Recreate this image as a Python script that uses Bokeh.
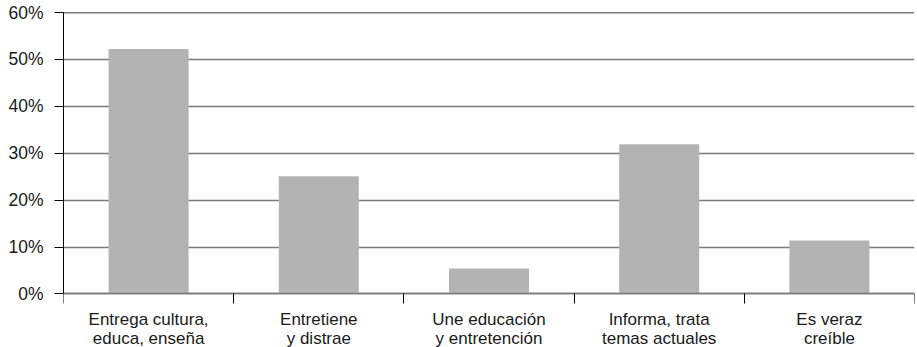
from bokeh.plotting import figure
from bokeh.models import Range1d, FixedTicker, PrintfTickFormatter, Span, ColumnDataSource
from bokeh.embed import file_html
from bokeh.resources import INLINE

# Survey answers (percent of respondents)
categories = [
    "Entrega cultura,\neduca, enseña",
    "Entretiene\ny distrae",
    "Une educación\ny entretención",
    "Informa, trata\ntemas actuales",
    "Es veraz\ncreíble",
]
percentages = [52.2, 25.1, 5.4, 31.9, 11.4]
y_ticks = [0, 10, 20, 30, 40, 50, 60]

FONT = "Liberation Sans"

positions = [i + 0.5 for i in range(len(categories))]
source = ColumnDataSource(data=dict(x=positions, top=percentages))

# The value range extends below zero to leave room for the category names,
# which are drawn by an x axis pinned at y = 0.
p = figure(
    width=917, height=347,
    output_backend="svg", toolbar_location=None,
    x_range=Range1d(0, len(categories)), y_range=Range1d(-11.42, 60),
    min_border_left=63, min_border_right=3, min_border_top=12, min_border_bottom=0,
)
p.outline_line_color = None
p.background_fill_color = "white"

p.vbar(x="x", top="top", width=0.47, source=source, color="#b3b3b3", line_color=None)

# Horizontal grid
p.xgrid.grid_line_color = None
p.ygrid.grid_line_color = "#7a7a7a"
p.ygrid.grid_line_width = 1.3
p.ygrid.ticker = FixedTicker(ticks=y_ticks)
p.add_layout(Span(location=60, dimension="width", line_color="black", line_width=1.3))

# Y axis
p.yaxis.ticker = FixedTicker(ticks=y_ticks)
p.yaxis.bounds = (0, 60)
p.yaxis.formatter = PrintfTickFormatter(format="%d%%")
p.yaxis.axis_line_color = "black"
p.yaxis.major_tick_line_color = "black"
p.yaxis.major_tick_out = 9
p.yaxis.major_tick_in = 0
p.yaxis.minor_tick_line_color = None
p.yaxis.major_label_standoff = 11
p.yaxis.major_label_text_font = FONT
p.yaxis.major_label_text_font_size = "17.5px"
p.yaxis.major_label_text_color = "#1a1a1a"

# X axis: labels centred under bars, tick marks at category boundaries
p.xaxis.fixed_location = 0
p.xaxis.ticker = FixedTicker(ticks=positions, minor_ticks=list(range(len(categories) + 1)))
p.xaxis.major_label_overrides = {pos: lab for pos, lab in zip(positions, categories)}
p.xaxis.axis_line_color = "#7a7a7a"
p.xaxis.axis_line_width = 1.3
p.xaxis.major_tick_line_color = None
p.xaxis.minor_tick_line_color = "black"
p.xaxis.minor_tick_out = 10
p.xaxis.minor_tick_in = 0
p.xaxis.major_label_standoff = 6
p.xaxis.major_label_text_font = FONT
p.xaxis.major_label_text_font_size = "17px"
p.xaxis.major_label_text_color = "#1a1a1a"
p.xaxis.major_label_text_line_height = 0.98

open("out.html", "w").write(file_html(p, INLINE))
